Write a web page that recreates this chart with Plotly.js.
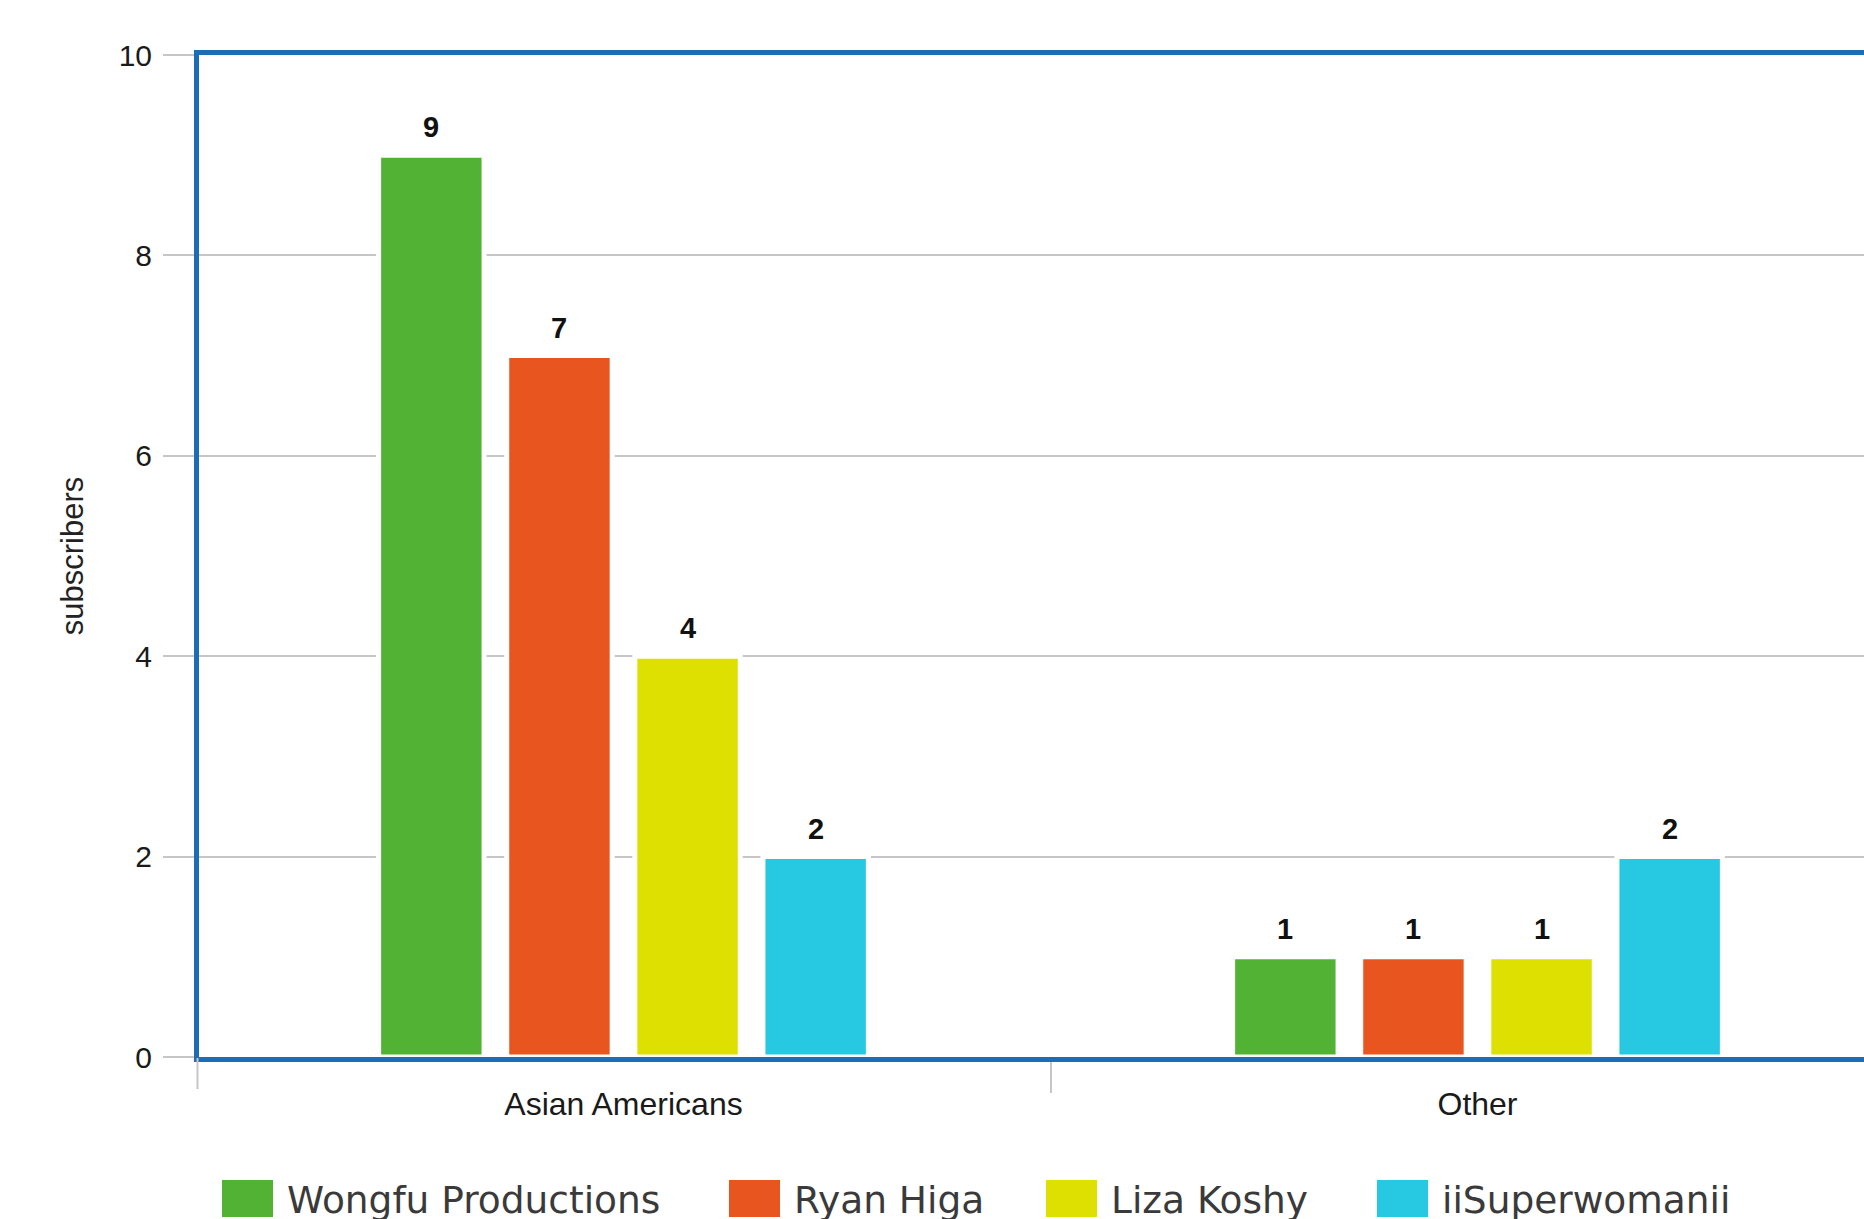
<!DOCTYPE html>
<html>
<head>
<meta charset="utf-8">
<script src="https://cdn.plot.ly/plotly-3.0.1.min.js"></script>
<style>
  html, body { margin: 0; padding: 0; background: #ffffff; overflow: hidden; }
  #chart { width: 1864px; height: 1219px; }
</style>
</head>
<body>
<div id="chart"></div>
<script>
// ---- data ----
const categories = ['Asian Americans', 'Other'];
const seriesNames = ['Wongfu Productions', 'Ryan Higa', 'Liza Koshy', 'iiSuperwomanii'];
const wongfuProductions = [9, 1];
const ryanHiga = [7, 1];
const lizaKoshy = [4, 1];
const iiSuperwomanii = [2, 2];
const yTickValues = [0, 2, 4, 6, 8, 10];
const yAxisTitle = 'subscribers';

// ---- styles ----
const seriesValues = [wongfuProductions, ryanHiga, lizaKoshy, iiSuperwomanii];
const seriesColors = ['#52B233', '#E8551E', '#DDE000', '#26C8E2'];
const frameBlue = '#1B6DB6';
const gridGrey = '#c6c6c6';

const W = 1864, H = 1219;
const mL = 199, mR = 0, mT = 55, mB = 162;
const plotW = W - mL - mR, plotH = H - mT - mB;
const catPx = 854;
const xStart = -0.5 + 2.5 / catPx;
const barGap = 0.40;
const slotPx = (1 - barGap) * catPx / seriesNames.length;
const tickLen = 31;

const traces = seriesNames.map((name, i) => ({
  type: 'bar',
  name: name,
  x: categories,
  y: seriesValues[i],
  cliponaxis: false,
  marker: { color: seriesColors[i], line: { color: '#ffffff', width: 5 } },
  hoverinfo: 'x+y+name'
}));

// value labels above the bars (anchored to the data values)
const valueLabels = [];
seriesNames.forEach((n, i) => {
  seriesValues[i].forEach((v, j) => {
    valueLabels.push({
      xref: 'x', yref: 'y',
      x: categories[j], y: v,
      xshift: (i - (seriesNames.length - 1) / 2) * slotPx,
      yshift: 28,
      xanchor: 'center', yanchor: 'middle',
      text: '<b>' + v + '</b>', showarrow: false,
      font: { family: 'Liberation Sans, Arial, sans-serif', size: 29, color: '#111111' }
    });
  });
});

// custom legend built from the series names/colours
const legendSquareX = [222, 729, 1046, 1377];
const legendSquareW = 51;
const legendTextGap = 12;
const legendTop = 1180, legendBottom = 1217, legendTextMid = 1200;
const px2x = p => (p - mL) / plotW;
const px2y = p => (mT + plotH - p) / plotH;

const shapes = seriesNames.map((n, i) => ({
  type: 'rect', xref: 'paper', yref: 'paper',
  x0: px2x(legendSquareX[i]), x1: px2x(legendSquareX[i] + legendSquareW),
  y0: px2y(legendBottom), y1: px2y(legendTop),
  fillcolor: seriesColors[i], line: { width: 0 }
}));
// left category boundary tick (falls just outside the plotted range)
shapes.push({
  type: 'line', xref: 'paper', yref: 'paper',
  x0: px2x(mL - 1.5), x1: px2x(mL - 1.5),
  y0: px2y(mT + plotH + 1), y1: px2y(mT + plotH + 1 + tickLen),
  line: { color: gridGrey, width: 2 }
});

const legendLabels = seriesNames.map((n, i) => ({
  xref: 'paper', yref: 'paper',
  x: px2x(legendSquareX[i] + legendSquareW + legendTextGap),
  y: px2y(legendTextMid),
  xanchor: 'left', yanchor: 'middle',
  text: n, showarrow: false,
  font: { family: 'DejaVu Sans, sans-serif', size: 37.5, color: '#3a3a3a' }
}));

const layout = {
  width: W, height: H,
  margin: { l: mL, r: mR, t: mT, b: mB, pad: 0 },
  paper_bgcolor: '#ffffff',
  plot_bgcolor: '#ffffff',
  showlegend: false,
  barmode: 'group',
  bargap: barGap,
  bargroupgap: 0.177,
  font: { family: 'Liberation Sans, Arial, sans-serif', color: '#222222' },
  xaxis: {
    type: 'category',
    range: [xStart, xStart + plotW / catPx],
    showgrid: false,
    zeroline: false,
    showline: true, mirror: true,
    linecolor: frameBlue, linewidth: 5,
    ticks: 'outside', tickson: 'boundaries',
    ticklen: tickLen, tickwidth: 2, tickcolor: gridGrey,
    ticklabelstandoff: 15,
    tickfont: { size: 32, color: '#1a1a1a' },
    fixedrange: true
  },
  yaxis: {
    range: [0, 10],
    tickvals: yTickValues,
    ticktext: yTickValues.map(String),
    showgrid: true, gridcolor: gridGrey, gridwidth: 2,
    zeroline: false,
    showline: true, mirror: false,
    linecolor: frameBlue, linewidth: 5,
    ticks: 'outside', ticklen: tickLen, tickwidth: 2, tickcolor: gridGrey,
    ticklabelstandoff: 5,
    tickfont: { size: 30, color: '#1a1a1a' },
    title: { text: yAxisTitle, font: { size: 31, color: '#222222' }, standoff: 27 },
    fixedrange: true
  },
  shapes: shapes,
  annotations: valueLabels.concat(legendLabels)
};

Plotly.newPlot('chart', traces, layout, { displayModeBar: false, staticPlot: true });
</script>
</body>
</html>
